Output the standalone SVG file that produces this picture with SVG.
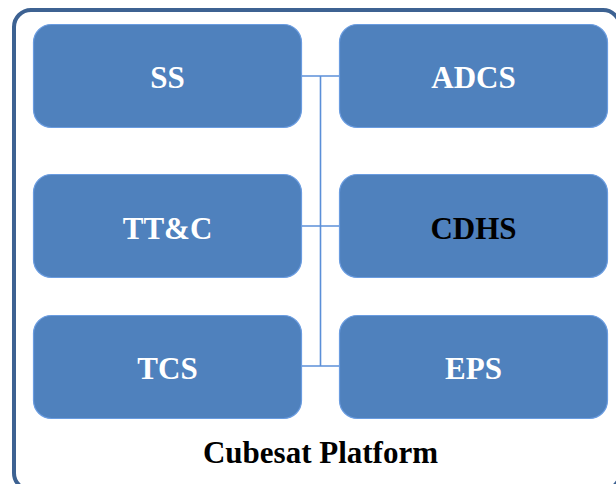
<svg xmlns="http://www.w3.org/2000/svg" width="616" height="484" viewBox="0 0 616 484">
<style>
.box{fill:#4f81bd;stroke:#6a9ce0;stroke-width:1.2}
.lbl{font-family:"Liberation Serif","Times New Roman",serif;font-weight:bold;font-size:31px;text-anchor:middle;fill:#ffffff}
.dark{fill:#000000}
.conn{stroke:#5b8fd8;stroke-width:1.6;fill:none}
</style>
<rect x="14" y="10" width="606" height="480" rx="17" ry="17" fill="#ffffff" stroke="#3d6292" stroke-width="4"/>
<g id="connectors">
<line class="conn" x1="320.5" y1="76" x2="320.5" y2="366"/>
<line class="conn" x1="302" y1="76" x2="339" y2="76"/>
<line class="conn" x1="302" y1="226" x2="339" y2="226"/>
<line class="conn" x1="302" y1="366" x2="339" y2="366"/>
</g>
<g id="SS"><rect class="box" x="33.5" y="24.5" width="268" height="103" rx="18"/><text class="lbl" x="167.5" y="88">SS</text></g>
<g id="ADCS"><rect class="box" x="339.5" y="24.5" width="268" height="103" rx="18"/><text class="lbl" x="473.5" y="88">ADCS</text></g>
<g id="TTC"><rect class="box" x="33.5" y="174.5" width="268" height="103" rx="18"/><text class="lbl" x="167.5" y="239">TT&amp;C</text></g>
<g id="CDHS"><rect class="box" x="339.5" y="174.5" width="268" height="103" rx="18"/><text class="lbl dark" x="473.5" y="239">CDHS</text></g>
<g id="TCS"><rect class="box" x="33.5" y="315.5" width="268" height="103" rx="18"/><text class="lbl" x="167.5" y="379">TCS</text></g>
<g id="EPS"><rect class="box" x="339.5" y="315.5" width="268" height="103" rx="18"/><text class="lbl" x="473.5" y="379">EPS</text></g>
<text class="lbl dark" x="320.5" y="463">Cubesat Platform</text>
</svg>
